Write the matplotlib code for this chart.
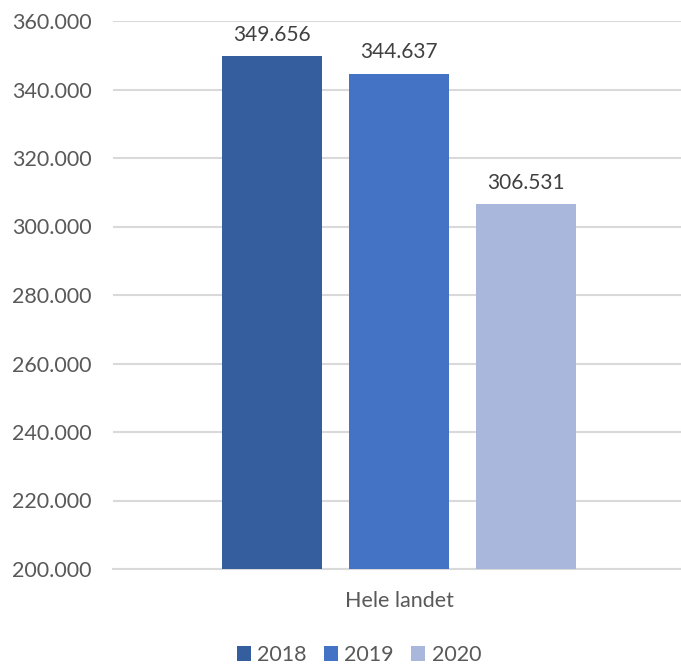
import matplotlib
matplotlib.use("Agg")
import matplotlib.pyplot as plt
from matplotlib.patches import Patch

categories = ["Hele landet"]
years = ["2018", "2019", "2020"]
values = [349656, 344637, 306531]
labels = ["349.656", "344.637", "306.531"]
colors = ["#355E9F", "#4472C4", "#A8B7DB"]
yticks = [200000, 220000, 240000, 260000, 280000, 300000, 320000, 340000, 360000]

plt.rcParams['font.family'] = ['Lato', 'DejaVu Sans']

W, H = 681, 664
fig = plt.figure(figsize=(W / 100, H / 100), dpi=100)
ax = fig.add_axes([113 / W, 1 - 569 / H, (681 - 113) / W, (569 - 21) / H])

bw = 100 / 568
step = 127 / 568
for i, (y, v, lab, c) in enumerate(zip(years, values, labels, colors)):
    x = (i - 1) * step
    ax.bar(x, v - 200000, bottom=200000, width=bw, color=c, zorder=3)
    ax.text(x, v + 3300, lab, ha='center', va='bottom', fontsize=15, color='#404040', zorder=4)

off = 2 / 568
ax.set_xlim(-0.5 - off, 0.5 - off)
ax.set_ylim(200000, 360000)
ax.set_yticks(yticks)
ax.set_yticklabels([f"{t // 1000}.000" for t in yticks], fontsize=15.5, color='#595959')
ax.set_xticks([0])
ax.set_xticklabels(categories, fontsize=15.5, color='#595959')
ax.tick_params(axis='both', length=0)
ax.tick_params(axis='x', pad=16)
ax.grid(axis='y', color='#D9D9D9', linewidth=1.5, zorder=0)
for s in ['top', 'right', 'left']:
    ax.spines[s].set_visible(False)
ax.spines['bottom'].set_color('#D9D9D9')
ax.spines['bottom'].set_linewidth(1.5)
for lbl in ax.get_yticklabels():
    lbl.set_horizontalalignment('left')
ax.tick_params(axis='y', pad=101 * 0.72)

handles = [Patch(facecolor=c, label=y) for y, c in zip(years, colors)]
fig.legend(handles=handles, loc='center', bbox_to_anchor=(359 / W, 1 - 655 / H), ncol=3,
           frameon=False, fontsize=15.5, handlelength=0.65, handleheight=0.65,
           handletextpad=0.3, columnspacing=0.8, labelcolor='#595959')

fig.savefig("out.png", dpi=100, facecolor='white')
